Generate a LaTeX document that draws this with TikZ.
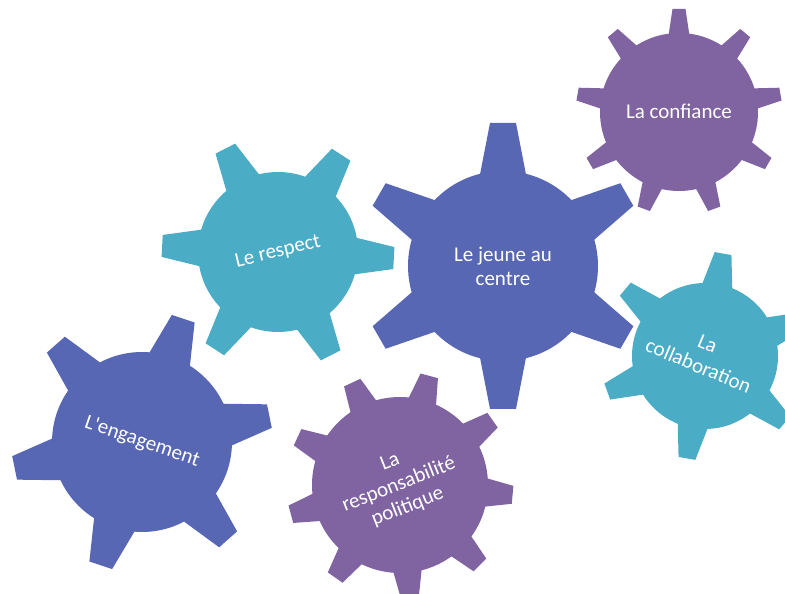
\documentclass[tikz,border=0pt]{standalone}
\usepackage{fontspec}
\setmainfont{Carlito}
\definecolor{gpurple}{HTML}{8064A2}
\definecolor{gblue}{HTML}{5867B3}
\definecolor{gteal}{HTML}{4BACC6}
% #1 cx, #2 cy, #3 body radius, #4 tip radius, #5 teeth, #6 first angle, #7 tip half width, #8 base half width, #9 colour
\newcommand{\gearshape}[9]{%
  \begin{scope}[shift={(#1,#2)}]
    \fill[#9] (0,0) circle (#3);
    \pgfmathsetmacro{\gstep}{360/#5}
    \foreach \k in {1,...,#5}{
      \fill[#9, rotate={#6+\k*\gstep}] (#3-6,-#8-1) -- (#4,-#7) -- (#4,#7) -- (#3-6,#8+1) -- cycle;
    }
  \end{scope}}
\begin{document}
\begin{tikzpicture}[x=1pt,y=1pt,
  lbl/.style={text=white, align=center, inner sep=0pt, font=\fontsize{21}{24}\selectfont}]
\useasboundingbox (0,0) rectangle (785,594);
\clip (0,0) rectangle (785,594);
% gears
\gearshape{679}{482}{79}{103}{9}{90}{6.5}{10}{gpurple}
\gearshape{503}{328}{95}{143}{6}{90}{13}{22.5}{gblue}
\gearshape{278}{342}{80}{116}{6}{-3}{11}{18}{gteal}
\gearshape{705}{238}{73}{104}{6}{20}{8.5}{15}{gteal}
\gearshape{142}{152}{90}{130}{6}{11.5}{12}{21}{gblue}
\gearshape{400}{109}{88}{113}{9}{-5}{9}{14}{gpurple}
% labels
\node[lbl] (confiance) at (679,483) {La confiance};
\node[lbl] (jeune) at (503,328) {Le jeune au\\centre};
\node[lbl, rotate=13.5] (respect) at (278,342) {Le respect};
\node[lbl, rotate=-22.7] (collab) at (703,239) {La\\collaboration};
\node[lbl, rotate=-19] (engage) at (142,152) {L\textquotesingle engagement};
\node[lbl, rotate=21.5] (respons) at (399,109) {La\\responsabilité\\politique};
\end{tikzpicture}
\end{document}
